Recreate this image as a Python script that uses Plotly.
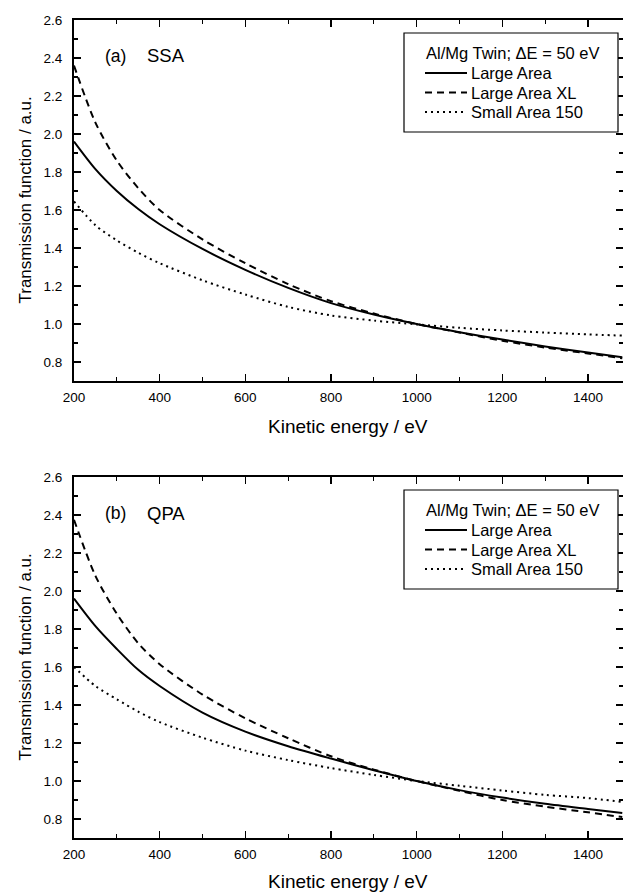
import plotly.graph_objects as go

# ---------------- data ----------------
energy = [200, 250, 300, 350, 400, 500, 600, 700, 800, 900, 1000, 1100, 1200, 1300, 1400, 1480]

ssa_large = [1.96, 1.815, 1.70, 1.605, 1.525, 1.395, 1.285, 1.19, 1.11, 1.05, 1.00, 0.957, 0.918, 0.882, 0.85, 0.825]
ssa_xl = [2.36, 2.06, 1.86, 1.715, 1.60, 1.445, 1.32, 1.21, 1.12, 1.055, 1.00, 0.955, 0.912, 0.876, 0.845, 0.82]
ssa_small = [1.645, 1.52, 1.44, 1.375, 1.32, 1.23, 1.155, 1.09, 1.045, 1.018, 0.998, 0.98, 0.966, 0.955, 0.945, 0.939]

qpa_large = [1.96, 1.815, 1.695, 1.585, 1.50, 1.36, 1.26, 1.183, 1.118, 1.057, 1.00, 0.952, 0.913, 0.88, 0.853, 0.832]
qpa_xl = [2.375, 2.08, 1.88, 1.725, 1.615, 1.455, 1.33, 1.225, 1.13, 1.06, 1.00, 0.948, 0.90, 0.865, 0.835, 0.81]
qpa_small = [1.60, 1.50, 1.43, 1.365, 1.31, 1.228, 1.16, 1.11, 1.068, 1.032, 1.00, 0.975, 0.95, 0.927, 0.91, 0.89]

series_names = ["Large Area", "Large Area XL", "Small Area 150"]
legend_title = "Al/Mg Twin; \u0394E = 50 eV"
panel_labels = [("(a)", "SSA"), ("(b)", "QPA")]
x_title = "Kinetic energy / eV"
y_title = "Transmission function / a.u."
x_ticks = [200, 400, 600, 800, 1000, 1200, 1400]
y_ticks = [0.8, 1.0, 1.2, 1.4, 1.6, 1.8, 2.0, 2.2, 2.4, 2.6]

# ---------------- layout helpers (pixel positions -> paper coords) ----------------
W, H = 623, 893
ML, MR, MT, MB = 74, 0, 20, 55
PW, PH = W - ML - MR, H - MT - MB


def px(xp):
    return (xp - ML) / PW


def py(yp):
    return (H - MB - yp) / PH


FONT = "Liberation Sans, Arial, sans-serif"
dashes = ["solid", "7px,5px", "2px,4px"]

fig = go.Figure()
panels = [
    (ssa_large, ssa_xl, ssa_small),
    (qpa_large, qpa_xl, qpa_small),
]
for i, curves in enumerate(panels):
    xa = "x" if i == 0 else "x2"
    ya = "y" if i == 0 else "y2"
    for name, vals, dash in zip(series_names, curves, dashes):
        fig.add_trace(go.Scatter(
            x=energy, y=vals, mode="lines", name=name,
            line=dict(color="black", width=2, dash=dash, shape="spline", smoothing=0.8),
            xaxis=xa, yaxis=ya, showlegend=False,
        ))

axis_common = dict(
    showline=True, linecolor="black", linewidth=2, mirror="allticks",
    ticks="inside", ticklen=7, tickwidth=1.5, tickcolor="black",
    showgrid=False, zeroline=False,
    tickfont=dict(family=FONT, size=13.5, color="black"),
)
xaxis_cfg = dict(axis_common, range=[200, 200 + PW * 1200 / (588 - 74)], tickvals=x_ticks,
                 minor=dict(ticks="inside", ticklen=4, tickwidth=1.2, tickcolor="black", dtick=100, tick0=200, showgrid=False),
                 ticklabelstandoff=3)
yaxis_cfg = dict(axis_common, range=[0.7, 2.6], tickvals=y_ticks, tickformat=".1f",
                 minor=dict(ticks="inside", ticklen=4, tickwidth=1.2, tickcolor="black", dtick=0.1, tick0=0.7, showgrid=False),
                 ticklabelstandoff=7)

panel_tops = [20, 477]
panel_bottoms = [381, 838]

fig.update_layout(
    width=W, height=H,
    margin=dict(l=ML, r=MR, t=MT, b=MB, autoexpand=False),
    paper_bgcolor="white", plot_bgcolor="white",
    showlegend=False,
    xaxis=dict(xaxis_cfg, domain=[0, 1], anchor="y"),
    yaxis=dict(yaxis_cfg, domain=[py(panel_bottoms[0]), py(panel_tops[0])], anchor="x"),
    xaxis2=dict(xaxis_cfg, domain=[0, 1], anchor="y2"),
    yaxis2=dict(yaxis_cfg, domain=[py(panel_bottoms[1]), py(panel_tops[1])], anchor="x2"),
)

ann = []
shapes = []
LEG_FONT = dict(family=FONT, size=16.5, color="black")
for k, ((lab, name), top) in enumerate(zip(panel_labels, panel_tops)):
    off = top - 20
    # panel label
    ann.append(dict(text=lab, x=px(103), y=py(56 + off), xref="paper", yref="paper", xanchor="left", yanchor="middle",
                    showarrow=False, font=dict(family=FONT, size=17.5, color="black")))
    ann.append(dict(text=name, x=px(145), y=py(56 + off), xref="paper", yref="paper", xanchor="left", yanchor="middle",
                    showarrow=False, font=dict(family=FONT, size=18.5, color="black")))
    # legend box
    shapes.append(dict(type="rect", xref="paper", yref="paper", x0=px(404), x1=px(618), y0=py(33 + off), y1=py(132 + off),
                       line=dict(color="black", width=1.2), fillcolor="white", layer="above"))
    ann.append(dict(text=legend_title, x=px(424), y=py(53 + off), xref="paper", yref="paper", xanchor="left", yanchor="middle",
                    showarrow=False, font=LEG_FONT))
    for j, (nm, dash) in enumerate(zip(series_names, dashes)):
        yy = py(73 + off + j * 19.5)
        shapes.append(dict(type="line", xref="paper", yref="paper", x0=px(425), x1=px(467), y0=yy, y1=yy,
                           line=dict(color="black", width=2, dash=dash), layer="above"))
        ann.append(dict(text=nm, x=px(469), y=yy, xref="paper", yref="paper", xanchor="left", yanchor="middle",
                        showarrow=False, font=LEG_FONT))

for t, b in zip(panel_tops, panel_bottoms):
    ann.append(dict(text=y_title, x=px(25), y=py((t + b) / 2), xref="paper", yref="paper", xanchor="center",
                    yanchor="middle", textangle=-90, showarrow=False, font=dict(family=FONT, size=17, color="black")))
for yc in [426, 881]:
    ann.append(dict(text=x_title, x=px(348), y=py(yc), xref="paper", yref="paper", xanchor="center", yanchor="middle",
                    showarrow=False, font=dict(family=FONT, size=19, color="black")))
fig.update_layout(annotations=ann, shapes=shapes)

fig.write_html("out.html", post_script="document.body.style.margin='0px';",
               config={"displayModeBar": False, "staticPlot": True})
